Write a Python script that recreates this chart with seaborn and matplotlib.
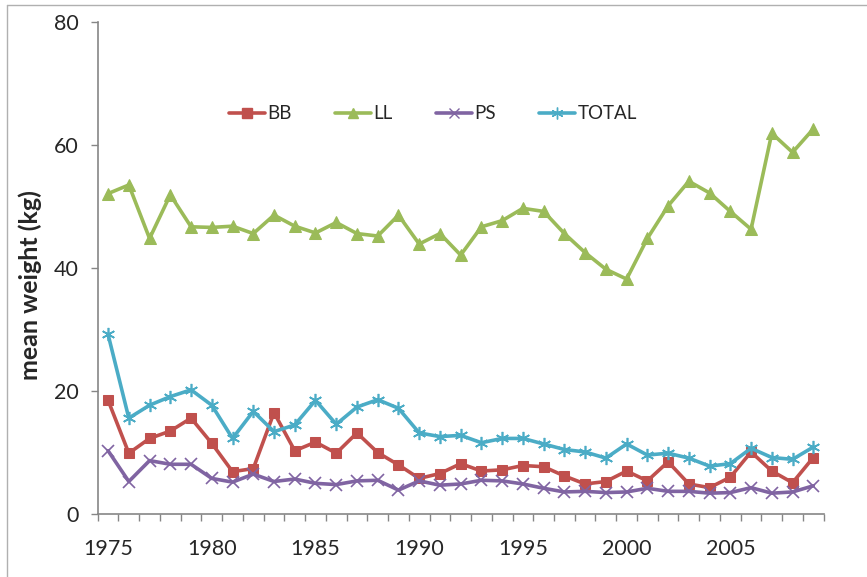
import matplotlib
matplotlib.use("Agg")
import matplotlib.pyplot as plt
import seaborn as sns
import numpy as np
import pandas as pd
from matplotlib.lines import Line2D

years = list(range(1975, 2010))
BB = [18.5, 9.9, 12.3, 13.5, 15.6, 11.5, 6.9, 7.4, 16.5, 10.3, 11.7, 9.9, 13.2, 10.0,
      8.0, 5.8, 6.6, 8.2, 7.0, 7.2, 7.9, 7.7, 6.2, 4.9, 5.3, 7.0, 5.4, 8.5,
      4.9, 4.3, 6.0, 10.1, 7.0, 5.1, 9.2]
LL = [52.1, 53.5, 44.8, 51.9, 46.7, 46.6, 46.8, 45.6, 48.6, 46.8, 45.7, 47.4, 45.6, 45.2,
      48.6, 43.9, 45.6, 42.1, 46.7, 47.7, 49.7, 49.2, 45.6, 42.5, 39.8, 38.2, 44.8, 50.1,
      54.1, 52.2, 49.2, 46.3, 61.9, 58.8, 62.6]
PS = [10.3, 5.3, 8.7, 8.1, 8.1, 5.8, 5.2, 6.5, 5.3, 5.7, 5.0, 4.8, 5.4, 5.5,
      3.9, 5.4, 4.7, 4.9, 5.5, 5.4, 4.9, 4.2, 3.6, 3.7, 3.5, 3.6, 4.2, 3.7,
      3.7, 3.4, 3.5, 4.3, 3.4, 3.6, 4.6]
TOTAL = [29.2, 15.6, 17.7, 19.1, 20.2, 17.7, 12.3, 16.7, 13.4, 14.5, 18.5, 14.6, 17.4, 18.6,
         17.2, 13.2, 12.6, 12.8, 11.6, 12.3, 12.3, 11.4, 10.5, 10.1, 9.1, 11.4, 9.6, 9.9,
         9.1, 7.8, 8.2, 10.7, 9.2, 8.9, 10.9]
series_names = ["BB", "LL", "PS", "TOTAL"]
xtick_labels = ["1975", "1980", "1985", "1990", "1995", "2000", "2005"]
yticks = [0, 20, 40, 60, 80]

colors = {"BB": "#C0504D", "LL": "#9BBB59", "PS": "#8064A2", "TOTAL": "#4BACC6"}
markers = {"BB": "s", "LL": "^", "PS": "x", "TOTAL": (6, 2, 0)}
msizes = {"BB": 7.5, "LL": 8.5, "PS": 8, "TOTAL": 9.5}

sns.set_style("white")
plt.rcParams["font.family"] = ["Lato", "DejaVu Sans"]

fig = plt.figure(figsize=(8.67, 5.77), dpi=100)
ax = fig.add_axes([0.1127, 0.109, 0.8373, 0.853])

data = {"BB": BB, "LL": LL, "PS": PS, "TOTAL": TOTAL}
for name in series_names:
    df = pd.DataFrame({"year": years, "value": data[name]})
    m = markers[name]
    filled = name in ("BB", "LL")
    kw = dict(marker=m, markersize=msizes[name], color=colors[name], linewidth=2.6)
    if filled:
        kw.update(markeredgecolor=colors[name], markerfacecolor=colors[name])
    else:
        kw.update(markeredgecolor=colors[name], markeredgewidth=1.2)
    sns.lineplot(data=df, x="year", y="value", ax=ax, legend=False, **kw)

ax.set_xlim(1974.5, 2009.5)
ax.set_ylim(0, 80)
ax.set_yticks(yticks)
ax.set_yticklabels([str(v) for v in yticks], fontsize=15.5)
ax.set_xticks([int(t) for t in xtick_labels])
ax.set_xticklabels(xtick_labels, fontsize=15.5)
ax.set_xticks(np.arange(1974.5, 2010.0, 1.0), minor=True)
ax.tick_params(axis="x", which="major", length=0, pad=18)
ax.tick_params(axis="x", which="minor", length=5, width=1, color="#868686", direction="out", bottom=True)
ax.tick_params(axis="y", which="major", length=5, width=1, color="#868686", direction="out", left=True, pad=9)
ax.set_xlabel("")
ax.set_ylabel("mean weight (kg)", fontsize=18, fontweight="bold")
ax.yaxis.set_label_coords(-0.077, 0.465)
for s in ["top", "right"]:
    ax.spines[s].set_visible(False)
for s in ["left", "bottom"]:
    ax.spines[s].set_color("#868686")
    ax.spines[s].set_linewidth(1.2)

handles = []
for name in series_names:
    m = markers[name]
    h = Line2D([0], [0], color=colors[name], marker=m, markersize=msizes[name] - 1,
               linewidth=2.6, markerfacecolor=colors[name], markeredgecolor=colors[name],
               markeredgewidth=1.0, label=name)
    handles.append(h)
ax.legend(handles=handles, loc="center", bbox_to_anchor=(0.462, 0.813), ncol=4, frameon=False,
          fontsize=13.5, handlelength=1.9, handletextpad=0.15, columnspacing=2.3)

# chart area border (left and top visible)
fig.add_artist(Line2D([7 / 867, 7 / 867], [0, 1 - 5 / 577], transform=fig.transFigure, color="#b0b0b0", linewidth=1))
fig.add_artist(Line2D([7 / 867, 1], [1 - 5 / 577, 1 - 5 / 577], transform=fig.transFigure, color="#b0b0b0", linewidth=1))

fig.savefig("out.png", dpi=100)
